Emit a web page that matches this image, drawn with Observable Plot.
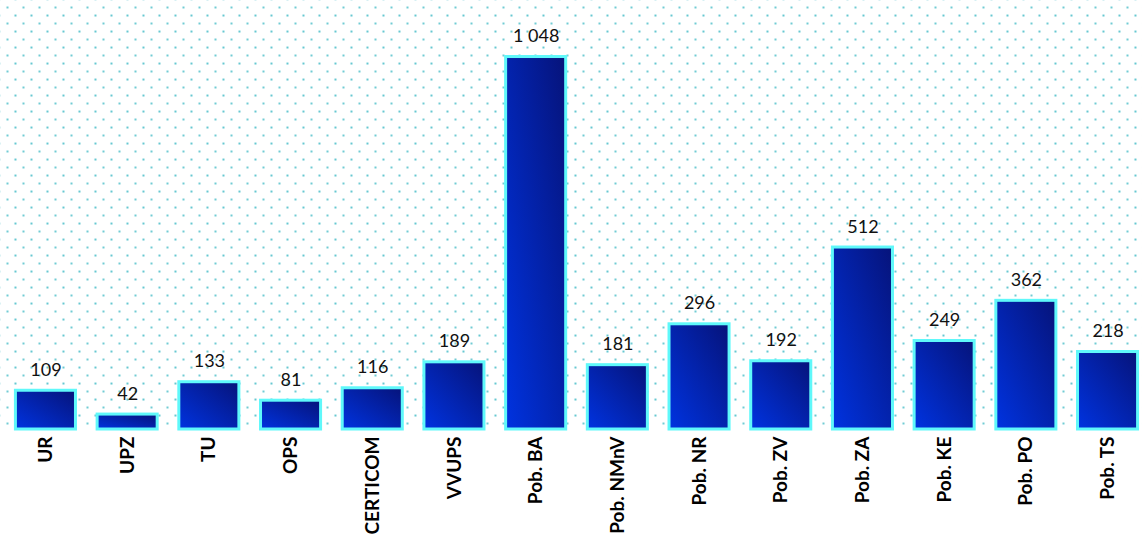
<!DOCTYPE html>
<html>
<head>
<meta charset="utf-8">
<script src="https://cdn.jsdelivr.net/npm/d3@7"></script>
<script src="https://cdn.jsdelivr.net/npm/@observablehq/plot@0.6"></script>
<style>
  html, body { margin: 0; padding: 0; background: #fff; }
  #chart svg { display: block; }
</style>
</head>
<body>
<div id="chart"></div>
<script>
const categories = ["UR", "UPZ", "TU", "OPS", "CERTICOM", "VVUPS", "Pob. BA", "Pob. NMnV", "Pob. NR", "Pob. ZV", "Pob. ZA", "Pob. KE", "Pob. PO", "Pob. TS"];
const values = [109, 42, 133, 81, 116, 189, 1048, 181, 296, 192, 512, 249, 362, 218];

const data = categories.map((c, i) => ({cat: c, val: values[i]}));
const fmt = v => d3.format(",")(v).replace(/,/g, "\u00a0");

const chart = Plot.plot({
  width: 1142,
  height: 542,
  marginTop: 0,
  marginBottom: 113,
  marginLeft: 0,
  marginRight: 0,
  style: {fontFamily: "Lato, 'Open Sans', sans-serif", background: "transparent"},
  x: {domain: categories, range: [4.6, 1148.4], paddingInner: 0.265, paddingOuter: 0.1325, round: false, label: null},
  y: {domain: [0, 1200], range: [429, 2.5], axis: null},
  marks: [
    Plot.frame({fill: "url(#dots)", stroke: null}),
    Plot.barY(data, {x: "cat", y: "val", fill: "url(#barGrad)", stroke: "#5ff8fa", strokeWidth: 3}),
    Plot.text(data, {x: "cat", y: "val", text: d => fmt(d.val), dy: -15, lineAnchor: "bottom", fontSize: 18, fill: "#111"}),
    Plot.axisX({tickSize: 0, tickPadding: 7, tickRotate: -90, fontSize: 19, fontWeight: "bold", fill: "#000", label: null})
  ]
});

const defs = d3.select(chart).insert("defs", ":first-child");
const pat = defs.append("pattern")
  .attr("id", "dots").attr("patternUnits", "userSpaceOnUse")
  .attr("width", 16).attr("height", 16);
pat.append("circle").attr("cx", 7).attr("cy", 7).attr("r", 1.1).attr("fill", "#4fc0ca");
pat.append("circle").attr("cx", 15).attr("cy", 15).attr("r", 1.1).attr("fill", "#4fc0ca");
const grad = defs.append("linearGradient")
  .attr("id", "barGrad").attr("x1", 0).attr("y1", 1).attr("x2", 1).attr("y2", 0);
grad.append("stop").attr("offset", "0%").attr("stop-color", "#0033e0");
grad.append("stop").attr("offset", "100%").attr("stop-color", "#06137a");

document.getElementById("chart").appendChild(chart);
</script>
</body>
</html>
